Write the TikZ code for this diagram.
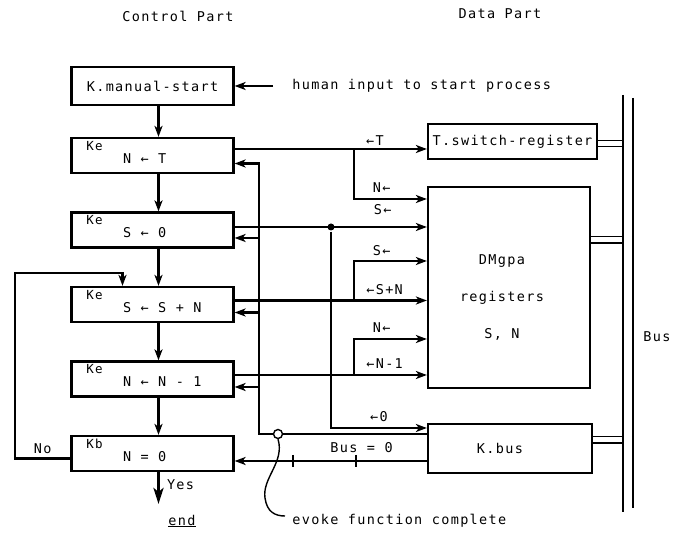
\documentclass[tikz,border=0pt]{standalone}
\usepackage{fontspec}
\newfontfamily\scanfont[LetterSpace=10]{DejaVu Sans Mono}
\usepackage{tikz}
\usetikzlibrary{arrows.meta,positioning,calc}

\newcommand\stmttext[1]{\makebox[100pt][l]{#1}}

\begin{document}
\begin{tikzpicture}[x=1pt, y=-1pt, >={Stealth[length=11pt,width=8pt,inset=3pt]}, line width=2.1pt,
    node distance=74.5pt, font=\scanfont\fontsize{13.5}{15}\selectfont]
  % Define styles
  \tikzstyle{ctrl}=[rectangle, draw, line width=2.2pt, minimum width=162pt, minimum height=35pt, inner sep=0pt]
  \tikzstyle{data}=[rectangle, draw, line width=2.2pt, minimum height=35pt, inner sep=0pt]
  \tikzstyle{kind}=[anchor=north west, inner sep=0pt, xshift=15pt, yshift=-3pt, font=\scanfont\fontsize{12.5}{14}\selectfont]
  \tikzstyle{stmt}=[inner sep=0pt, xshift=20.5pt, yshift=-3pt]
  \tikzstyle{lbl}=[inner sep=1pt]
  \tikzstyle{dot}=[circle, fill, inner sep=0pt, minimum size=7pt]
  \tikzstyle{ring}=[circle, draw, fill=white, line width=1.4pt, inner sep=0pt, minimum size=9pt]
  \tikzstyle{link}=[double, double distance=5pt, line width=1.4pt]
  \tikzstyle{yes}=[->, line width=3pt, >={Stealth[length=16pt,width=10pt,inset=4pt]}]

  \useasboundingbox (0,0) rectangle (673,534);

  % Headings
  \node (ctrlhd) at (178,16) {Control Part};
  \node (datahd) at (500,14) {Data Part};

  % Control part
  \node[ctrl, minimum height=38pt] (start) at (152.5,86) {K.manual-start};
  \node[ctrl, label={[kind]north west:Ke}, label={[stmt]center:\stmttext{N ← T}}] (nt) at (152.5,155.5) {};
  \node[ctrl, below of=nt, label={[kind]north west:Ke}, label={[stmt]center:\stmttext{S ← 0}}] (sz) {};
  \node[ctrl, below of=sz, label={[kind]north west:Ke}, label={[stmt]center:\stmttext{S ← S + N}}] (ssn) {};
  \node[ctrl, below of=ssn, label={[kind]north west:Ke}, label={[stmt]center:\stmttext{N ← N - 1}}] (nn1) {};
  \node[ctrl, below of=nn1, label={[kind]north west:Kb}, label={[stmt]center:\stmttext{N = 0}}] (nz) {};

  % Data part
  \node[data, minimum width=169pt] (tsw) at (512.5,141.5) {T.switch-register};
  \node[data, minimum width=162pt, minimum height=201pt,
        label={[align=center, xshift=-7pt, yshift=-10pt]center:{DMgpa\\[22pt]registers\\[22pt]S, N}}] (dm) at (509,287.5) {};
  \node[data, minimum width=164pt, minimum height=49pt,
        label={[xshift=-10pt]center:K.bus}] (kbus) at (510,448.5) {};

  % Input and control flow
  \node[anchor=west] (human) at (288,86) {human input to start process};
  \draw[->] ([xshift=-15pt]human.west) -- (start.east);
  \draw[->] ([xshift=6pt]start.south) -- ([xshift=6pt]nt.north);
  \draw[->] ([xshift=6pt]nt.south) -- ([xshift=6pt]sz.north);
  \draw[->] ([xshift=6pt]sz.south) -- ([xshift=6pt]ssn.north);
  \draw[->] ([xshift=6pt]ssn.south) -- ([xshift=6pt]nn1.north);
  \draw[->] ([xshift=6pt]nn1.south) -- ([xshift=6pt]nz.north);
  \draw[->] ($(nz.west)+(0,5)$) -| node[lbl, above=3pt, pos=0.25] {No} (15,273) -| ([xshift=-30pt]ssn.north);
  \coordinate (yesend) at (158.5,504);
  \draw[yes] ([xshift=6pt]nz.south) -- node[lbl, right=6pt, pos=0.4] {Yes} (yesend);
  \node (endlbl) at (182,521) {\underline{end}};

  % Evoke lines
  \coordinate (brx) at (354,0);
  \coordinate (tout) at ($(nt.east)+(0,-6.5)$);
  \draw[->] (tout) -- node[lbl, above=1pt, pos=0.73] {←T} (tout -| tsw.west);
  \draw[->] (tout -| brx) |- node[lbl, above=4pt, pos=0.69] {N←} (dm.west |- 0,199);

  \coordinate (sout) at ($(sz.east)+(0,-3)$);
  \draw[->] (sout) -- node[lbl, above=10pt, pos=0.77] {S←} (sout -| dm.west);
  \node[dot] (jz) at (sout -| 331,0) {};
  \draw[->] (jz) |- node[lbl, above=4pt, pos=0.75] {←0} ($(kbus.west)+(0,-20.5)$);

  \coordinate (snout) at ($(ssn.east)+(0,-4)$);
  \draw[->] (snout) -- node[lbl, above=4pt, pos=0.78] {←S+N} (snout -| dm.west);
  \draw[->] (snout -| brx) |- node[lbl, above=3pt, pos=0.69] {S←} (dm.west |- 0,261);

  \coordinate (nnout) at ($(nn1.east)+(0,-4)$);
  \draw[->] (nnout) -- node[lbl, above=4pt, pos=0.78] {←N-1} (nnout -| dm.west);
  \draw[->] (nnout -| brx) |- node[lbl, above=4pt, pos=0.69] {N←} (dm.west |- 0,339);

  % Function complete
  \coordinate (ev) at ($(kbus.west)+(0,-14.5)$);
  \draw[->] (ev) -| ($(nt.east)+(24,8)$) -- ($(nt.east)+(0,8)$);
  \draw[->] ($(sz.east)+(24,8)$) -- ($(sz.east)+(0,8)$);
  \draw[->] ($(ssn.east)+(24,8)$) -- ($(ssn.east)+(0,8)$);
  \draw[->] ($(nn1.east)+(24,8)$) -- ($(nn1.east)+(0,8)$);
  \node[ring] (evk) at (ev -| 278,0) {};
  \node[anchor=west] (evtxt) at (288,521) {evoke function complete};
  \draw[line width=1.4pt] (evk.south) .. controls (285,462) and (262,478) .. (265,498)
    .. controls (267,512) and (275,516) .. ($(evtxt.west)+(-3,-5)$);

  \coordinate (bz) at ($(kbus.west)+(0,12.5)$);
  \draw[->] (bz) -- node[lbl, above=6pt, pos=0.34] {Bus = 0} (bz -| nz.east);
  \draw (bz -| 293,0) ++(0,-6) -- ++(0,12);
  \draw (bz -| 356,0) ++(0,-6) -- ++(0,12);

  % Bus
  \coordinate (busa) at (623,95);
  \coordinate (busb) at (623,512);
  \coordinate (tswl) at ($(tsw.east)+(0,2)$);
  \coordinate (dml) at ($(dm.north east)+(0,54)$);
  \coordinate (kbl) at ($(kbus.east)+(0,-8.5)$);
  \draw[link] (tswl) -- (tswl -| busa);
  \draw[link] (dml) -- (dml -| busa);
  \draw[link] (kbl) -- (kbl -| busa);
  \draw (busa) -- (busb);
  \draw (633,98) -- (633,508);
  \node (buslbl) at (657,337) {Bus};
\end{tikzpicture}
\end{document}
